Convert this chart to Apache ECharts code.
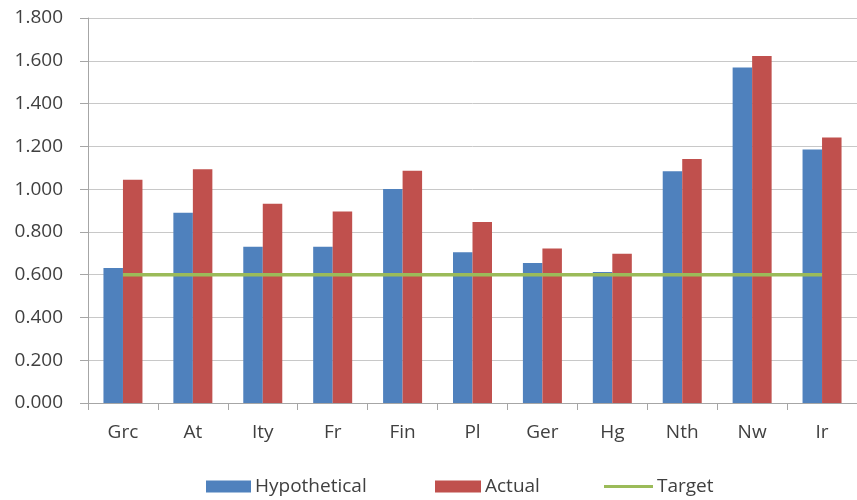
<!DOCTYPE html>
<html>
<head>
<meta charset="utf-8">
<script src="https://cdn.jsdelivr.net/npm/echarts@6/dist/echarts.min.js"></script>
<style>
  html, body { margin: 0; padding: 0; background: #ffffff; }
  #chart { width: 857px; height: 500px; }
</style>
</head>
<body>
<div id="chart"></div>
<script>
const categories = ['Grc', 'At', 'Ity', 'Fr', 'Fin', 'Pl', 'Ger', 'Hg', 'Nth', 'Nw', 'Ir'];
const hypothetical = [0.631, 0.890, 0.731, 0.731, 1.000, 0.705, 0.655, 0.612, 1.083, 1.568, 1.185];
const actual = [1.044, 1.093, 0.932, 0.895, 1.086, 0.846, 0.722, 0.698, 1.141, 1.622, 1.241];
const target = [0.6, 0.6, 0.6, 0.6, 0.6, 0.6, 0.6, 0.6, 0.6, 0.6, 0.6];

const FONT = 'Open Sans';
const TXT = '#404040';
const FS = 19;

function legendItem(name, left, w, h) {
  return {
    left: left,
    top: 477,
    padding: 0,
    itemWidth: w,
    itemHeight: h,
    icon: 'rect',
    selectedMode: false,
    textStyle: { fontFamily: FONT, fontSize: FS, color: TXT, padding: [0, 0, 0, -1] },
    data: [name]
  };
}

const chart = echarts.init(document.getElementById('chart'), null, { renderer: 'canvas' });
chart.setOption({
  animation: false,
  backgroundColor: '#ffffff',
  textStyle: { fontFamily: FONT },
  grid: { left: 88, right: 0, top: 18, bottom: 97 },
  legend: [
    legendItem('Hypothetical', 206, 45, 12),
    legendItem('Actual', 435, 46, 12),
    legendItem('Target', 604, 49, 3)
  ],
  xAxis: {
    type: 'category',
    data: categories,
    boundaryGap: true,
    axisLine: { show: true, lineStyle: { color: '#a6a6a6', width: 1 } },
    axisTick: { show: true, length: 7, lineStyle: { color: '#a6a6a6' } },
    axisLabel: { fontFamily: FONT, fontSize: FS, color: TXT, margin: 20 },
    splitLine: { show: false }
  },
  yAxis: {
    type: 'value',
    min: 0,
    max: 1.8,
    interval: 0.2,
    axisLine: { show: true, lineStyle: { color: '#a6a6a6', width: 1 } },
    axisTick: { show: true, length: 8, lineStyle: { color: '#a6a6a6' } },
    axisLabel: {
      fontFamily: FONT, fontSize: FS, color: TXT, margin: 25,
      formatter: function (v) { return v.toFixed(3); }
    },
    splitLine: { show: true, lineStyle: { color: '#c8c8c8', width: 1 } }
  },
  series: [
    {
      name: 'Hypothetical',
      type: 'bar',
      data: hypothetical,
      barWidth: 19.5,
      barGap: '0%',
      itemStyle: { color: '#4f81bd' }
    },
    {
      name: 'Actual',
      type: 'bar',
      data: actual,
      barWidth: 19.5,
      barGap: '0%',
      itemStyle: { color: '#c0504d' }
    },
    {
      name: 'Target',
      type: 'line',
      data: target,
      symbol: 'none',
      showSymbol: false,
      lineStyle: { color: '#9bbb59', width: 3.5 },
      itemStyle: { color: '#9bbb59' },
      z: 5
    }
  ]
});
</script>
</body>
</html>
